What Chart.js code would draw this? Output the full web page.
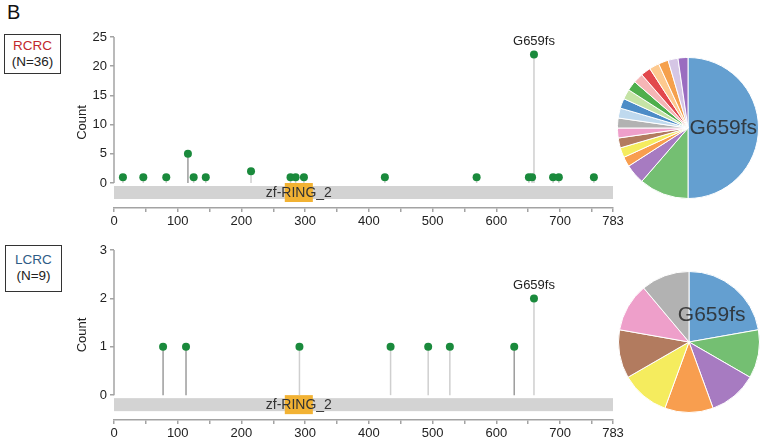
<!DOCTYPE html>
<html>
<head>
<meta charset="utf-8">
<script src="https://cdn.jsdelivr.net/npm/chart.js@4"></script>
<style>
  body { margin: 0; background: #fff; font-family: "Liberation Sans", Arial, sans-serif; }
  #wrap { position: relative; width: 765px; height: 442px; overflow: hidden; }
  canvas, .txt, .box { position: absolute; }
  .box { border: 1px solid #333; text-align: center; font-size: 13.5px; line-height: 16px; padding-top: 3px; box-sizing: border-box; color: #222; }
</style>
</head>
<body>
<div id="wrap">
  <div class="txt" style="left:7px;top:1px;font-size:20px;color:#111">B</div>
  <div class="box" style="left:4px;top:34px;width:57px;height:40px"><span style="color:#c1272d">RCRC</span><br>(N=36)</div>
  <div class="box" style="left:5px;top:245px;width:57px;height:47px;padding-top:6px"><span style="color:#2e5c86">LCRC</span><br>(N=9)</div>
  <canvas id="rcrc" width="630" height="230" style="left:0;top:0"></canvas>
  <canvas id="rcrcPie" width="142" height="142" style="left:617px;top:57px"></canvas>
  <canvas id="lcrc" width="630" height="212" style="left:0;top:230px"></canvas>
  <canvas id="lcrcPie" width="142" height="142" style="left:618px;top:271px"></canvas>
</div>
<script>
// mutation positions and counts
const rcrcPos = [14, 46, 82, 116, 125, 144, 215, 277, 285, 298, 425, 569, 651, 656, 659, 689, 698, 753];
const rcrcCount = [1, 1, 1, 5, 1, 1, 2, 1, 1, 1, 1, 1, 1, 1, 22, 1, 1, 1];
const lcrcPos = [77, 113, 291, 434, 493, 527, 628, 659];
const lcrcCount = [1, 1, 1, 1, 1, 1, 1, 2];

const proteinLength = 783;
const domainName = "zf-RING_2";
const domainStart = 268;
const domainEnd = 312;
const hotspotPos = 659;
const hotspotName = "G659fs";

const xTicks = [0, 50, 100, 150, 200, 250, 300, 350, 400, 450, 500, 550, 600, 650, 700, 750, 783];
const rcrcYTicks = [0, 5, 10, 15, 20, 25];
const lcrcYTicks = [0, 1, 2, 3];

const pieColors = ["#649fd0", "#74bf72", "#a77bc1", "#f89e4f", "#f5ec5e", "#b27b5f", "#ee9fca", "#b2b2b2",
  "#bfd9ee", "#4c8cc7", "#c5e3a6", "#4fae4c", "#f5b6b6", "#e2484d", "#fdc98f", "#f5a04c", "#d5c6e5", "#9a6cc0"];
const darkStems = [116, 77, 113, 628];

Chart.defaults.font.family = "'Liberation Sans', Arial, sans-serif";
Chart.defaults.color = "#222";

const axisGray = "#a3a3a3";

const lollipop = {
  id: "lollipop",
  beforeDatasetsDraw(chart) {
    const { ctx, chartArea, scales: { x, y } } = chart;
    const y0 = y.getPixelForValue(0);
    ctx.save();
    // protein backbone
    const p0 = x.getPixelForValue(0), p1 = x.getPixelForValue(proteinLength);
    ctx.fillStyle = "#d3d3d3";
    ctx.fillRect(p0, y0 + 3, p1 - p0, 13);
    // domain
    const d0 = x.getPixelForValue(domainStart), d1 = x.getPixelForValue(domainEnd);
    ctx.fillStyle = "#f2b233";
    ctx.fillRect(d0, y0, d1 - d0, 19);
    ctx.fillStyle = "#333";
    ctx.font = "14px 'Liberation Sans', Arial, sans-serif";
    ctx.textAlign = "center";
    ctx.textBaseline = "middle";
    ctx.fillText(domainName, (d0 + d1) / 2, y0 + 10);
    // y axis line, only over the positive range
    ctx.strokeStyle = axisGray;
    ctx.lineWidth = 1.5;
    ctx.beginPath();
    ctx.moveTo(chartArea.left, y0);
    ctx.lineTo(chartArea.left, y.getPixelForValue(y.max));
    ctx.stroke();
    // stems
    const ds = chart.data.datasets[0].data;
    chart.getDatasetMeta(0).data.forEach((pt, i) => {
      ctx.strokeStyle = darkStems.includes(ds[i].x) ? "#9c9c9c" : "#cfcfcf";
      ctx.beginPath();
      ctx.moveTo(pt.x, y0);
      ctx.lineTo(pt.x, pt.y);
      ctx.stroke();
    });
    ctx.restore();
  },
  afterDatasetsDraw(chart) {
    const { ctx } = chart;
    const ds = chart.data.datasets[0].data;
    const i = ds.findIndex(d => d.x === hotspotPos);
    if (i < 0) return;
    const pt = chart.getDatasetMeta(0).data[i];
    ctx.save();
    ctx.fillStyle = "#222";
    ctx.font = "13px 'Liberation Sans', Arial, sans-serif";
    ctx.textAlign = "center";
    ctx.textBaseline = "middle";
    ctx.fillText(hotspotName, pt.x, pt.y - 13);
    ctx.restore();
  }
};

function makeLollipop(id, pos, count, yTicks, padTop) {
  const yMax = yTicks[yTicks.length - 1];
  const yMin = -yMax * 25 / 146;
  return new Chart(document.getElementById(id), {
    type: "scatter",
    data: {
      datasets: [{
        data: pos.map((p, i) => ({ x: p, y: count[i] })),
        pointRadius: 4,
        pointBackgroundColor: "#1a8a3c",
        pointBorderWidth: 0,
        clip: false,
      }],
    },
    options: {
      animation: false,
      responsive: false,
      layout: { padding: { left: 70, right: 17, top: padTop, bottom: 0 } },
      plugins: { legend: { display: false }, tooltip: { enabled: false } },
      scales: {
        x: {
          type: "linear",
          min: 0,
          max: proteinLength,
          afterBuildTicks: s => { s.ticks = xTicks.map(v => ({ value: v })); },
          afterFit: s => { s.height = 22; },
          ticks: {
            autoSkip: false,
            maxRotation: 0,
            padding: 2,
            font: { size: 13 },
            callback: v => (v % 100 === 0 || v === proteinLength ? v : ""),
          },
          grid: { drawOnChartArea: false, tickLength: 4, color: axisGray, lineWidth: 1.5 },
          border: { color: axisGray, width: 1.5 },
        },
        y: {
          min: yMin,
          max: yMax,
          afterBuildTicks: s => { s.ticks = yTicks.map(v => ({ value: v })); },
          afterFit: s => { s.width = 44; },
          ticks: { padding: 3, font: { size: 13 } },
          grid: { drawOnChartArea: false, tickLength: 4, color: axisGray, lineWidth: 1.5 },
          border: { display: false },
          title: { display: true, text: "Count", font: { size: 13 }, padding: { top: 5, bottom: 0 } },
        },
      },
    },
    plugins: [lollipop],
  });
}

makeLollipop("rcrc", rcrcPos, rcrcCount, rcrcYTicks, 37);
makeLollipop("lcrc", lcrcPos, lcrcCount, lcrcYTicks, 20);

// pie label in the hotspot slice
const pieLabel = {
  id: "pieLabel",
  afterDatasetsDraw(chart) {
    const arc = chart.getDatasetMeta(0).data[0];
    const c = arc.tooltipPosition();
    const { ctx } = chart;
    ctx.save();
    ctx.fillStyle = "rgba(40,40,40,0.85)";
    ctx.font = "21px 'Liberation Sans', Arial, sans-serif";
    ctx.textAlign = "center";
    ctx.textBaseline = "middle";
    ctx.fillText(hotspotName, c.x, c.y);
    ctx.restore();
  }
};

function makePie(id, pos, count) {
  // slices ordered by count, largest first
  const order = pos.map((p, i) => i).sort((a, b) => count[b] - count[a] || a - b);
  return new Chart(document.getElementById(id), {
    type: "pie",
    data: {
      labels: order.map(i => (pos[i] === hotspotPos ? hotspotName : String(pos[i]))),
      datasets: [{
        data: order.map(i => count[i]),
        backgroundColor: pieColors.slice(0, order.length),
        borderColor: "#fff",
        borderWidth: 1,
      }],
    },
    options: {
      animation: false,
      responsive: false,
      plugins: { legend: { display: false }, tooltip: { enabled: false } },
    },
    plugins: [pieLabel],
  });
}

makePie("rcrcPie", rcrcPos, rcrcCount);
makePie("lcrcPie", lcrcPos, lcrcCount);
</script>
</body>
</html>
